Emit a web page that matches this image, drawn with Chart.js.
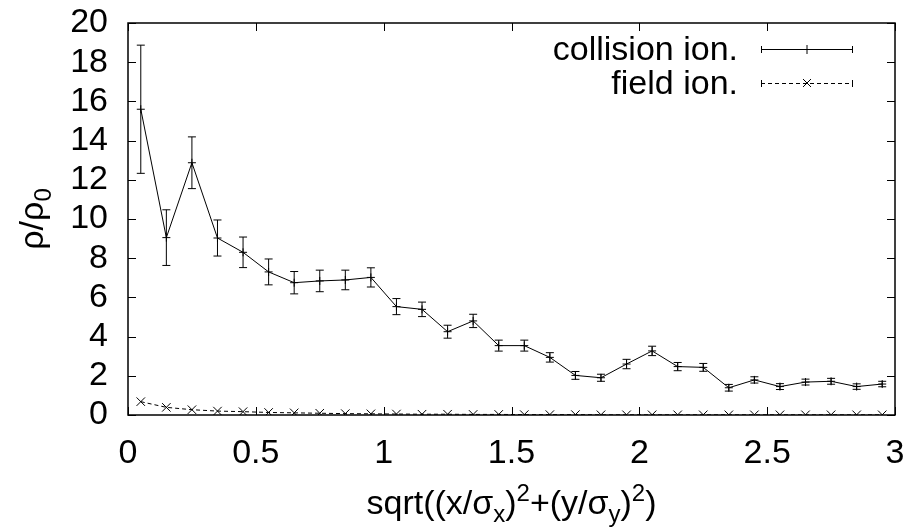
<!DOCTYPE html>
<html>
<head>
<meta charset="utf-8">
<script src="https://cdn.jsdelivr.net/npm/chart.js@4.4.1/dist/chart.umd.min.js"></script>
<style>
  html, body { margin: 0; padding: 0; background: #fff; }
  #wrap { width: 907px; height: 527px; position: relative; }
</style>
</head>
<body>
<div id="wrap"><canvas id="myChart"></canvas></div>
<script>
// valores
const xValues = [0.05, 0.15, 0.25, 0.35, 0.45, 0.55, 0.65, 0.75, 0.85, 0.95,
                 1.05, 1.15, 1.25, 1.35, 1.45, 1.55, 1.65, 1.75, 1.85, 1.95,
                 2.05, 2.15, 2.25, 2.35, 2.45, 2.55, 2.65, 2.75, 2.85, 2.95];
const collisionValues = [15.6, 9.05, 12.87, 9.03, 8.3, 7.3, 6.75, 6.84, 6.89, 7.02,
                         5.53, 5.39, 4.25, 4.8, 3.54, 3.54, 2.94, 2.02, 1.9, 2.6,
                         3.27, 2.47, 2.43, 1.39, 1.79, 1.45, 1.68, 1.72, 1.45, 1.58];
const collisionErr = [3.27, 1.42, 1.32, 0.92, 0.78, 0.66, 0.57, 0.55, 0.5, 0.49,
                      0.41, 0.37, 0.33, 0.34, 0.28, 0.28, 0.24, 0.2, 0.18, 0.24,
                      0.24, 0.21, 0.2, 0.17, 0.16, 0.15, 0.15, 0.15, 0.14, 0.14];
const fieldValues = [0.68, 0.39, 0.27, 0.2, 0.17, 0.13, 0.11, 0.09, 0.07, 0.06,
                     0.05, 0.04, 0.04, 0.03, 0.03, 0.02, 0.02, 0.02, 0.01, 0.01,
                     0.01, 0.01, 0.01, 0.01, 0.01, 0.01, 0.01, 0.01, 0.01, 0.01];
const seriesLabels = ['collision ion.', 'field ion.'];
const xTickStep = 0.5;
const yTickStep = 2;
const xRange = [0, 3];
const yRange = [0, 20];

const FONT = '"Liberation Sans", Arial, Helvetica, sans-serif';
const fontSize = 34;

// moldura + ticks para dentro (estilo gnuplot)
const frameTicks = {
    id: 'frameTicks',
    afterDraw(chart) {
        const ctx = chart.ctx;
        const a = chart.chartArea;
        const xs = chart.scales.x, ys = chart.scales.y;
        const len = 8;
        ctx.save();
        ctx.strokeStyle = '#000';
        ctx.lineWidth = 1.5;
        ctx.strokeRect(a.left, a.top, a.right - a.left, a.bottom - a.top);
        ctx.lineWidth = 1;
        ctx.beginPath();
        xs.ticks.forEach(t => {
            const px = Math.round(xs.getPixelForValue(t.value)) + 0.5;
            ctx.moveTo(px, a.bottom); ctx.lineTo(px, a.bottom - len);
            ctx.moveTo(px, a.top); ctx.lineTo(px, a.top + len);
        });
        ys.ticks.forEach(t => {
            const py = Math.round(ys.getPixelForValue(t.value)) + 0.5;
            ctx.moveTo(a.left, py); ctx.lineTo(a.left + len, py);
            ctx.moveTo(a.right, py); ctx.lineTo(a.right - len, py);
        });
        ctx.stroke();
        ctx.restore();
    }
};

// barras de erro
const errorBars = {
    id: 'errorBars',
    afterDatasetsDraw(chart) {
        const ctx = chart.ctx;
        const xs = chart.scales.x, ys = chart.scales.y;
        const cap = 4;
        ctx.save();
        ctx.strokeStyle = '#000';
        ctx.lineWidth = 1;
        ctx.beginPath();
        xValues.forEach((x, i) => {
            const px = xs.getPixelForValue(x);
            const top = ys.getPixelForValue(collisionValues[i] + collisionErr[i]);
            const bot = ys.getPixelForValue(collisionValues[i] - collisionErr[i]);
            ctx.moveTo(px, top); ctx.lineTo(px, bot);
            ctx.moveTo(px - cap, top); ctx.lineTo(px + cap, top);
            ctx.moveTo(px - cap, bot); ctx.lineTo(px + cap, bot);
        });
        ctx.stroke();
        ctx.restore();
    }
};

// legenda e títulos dos eixos (com índices)
const extras = {
    id: 'extras',
    afterDraw(chart) {
        const ctx = chart.ctx;
        const a = chart.chartArea;
        ctx.save();
        ctx.fillStyle = '#000';
        ctx.strokeStyle = '#000';
        ctx.lineWidth = 1;

        // legenda
        const rows = [49, 83];
        const x0 = 761, x1 = 853, xm = (x0 + x1) / 2;
        ctx.font = fontSize + 'px ' + FONT;
        ctx.textAlign = 'right';
        ctx.textBaseline = 'alphabetic';
        rows.forEach((y, i) => {
            ctx.fillText(seriesLabels[i], 738, y + 11);
            ctx.setLineDash(i === 1 ? [4, 3] : []);
            ctx.beginPath();
            ctx.moveTo(x0, y + 0.5); ctx.lineTo(x1, y + 0.5);
            ctx.stroke();
            ctx.setLineDash([]);
            ctx.beginPath();
            ctx.moveTo(x0 + 0.5, y - 3); ctx.lineTo(x0 + 0.5, y + 4);
            ctx.moveTo(x1 - 0.5, y - 3); ctx.lineTo(x1 - 0.5, y + 4);
            if (i === 0) {
                ctx.moveTo(xm, y - 4); ctx.lineTo(xm, y + 5);
            } else {
                ctx.moveTo(xm - 4, y - 4); ctx.lineTo(xm + 4, y + 4);
                ctx.moveTo(xm - 4, y + 4); ctx.lineTo(xm + 4, y - 4);
            }
            ctx.stroke();
        });

        // título do eixo x
        const big = fontSize + 'px ' + FONT;
        const small = Math.round(fontSize * 0.7) + 'px ' + FONT;
        const parts = [
            ['sqrt((x/σ', big, 0], ['x', small, 8], [')', big, 0], ['2', small, -13],
            ['+(y/σ', big, 0], ['y', small, 8], [')', big, 0], ['2', small, -13], [')', big, 0]
        ];
        ctx.textAlign = 'left';
        let total = 0;
        parts.forEach(p => { ctx.font = p[1]; total += ctx.measureText(p[0]).width; });
        let cx = (a.left + a.right) / 2 - total / 2;
        const base = 514;
        parts.forEach(p => {
            ctx.font = p[1];
            ctx.fillText(p[0], cx, base + p[2]);
            cx += ctx.measureText(p[0]).width;
        });

        // título do eixo y
        ctx.translate(43, (a.top + a.bottom) / 2);
        ctx.rotate(-Math.PI / 2);
        const yparts = [['ρ/ρ', big, 0], ['0', small, 8]];
        total = 0;
        yparts.forEach(p => { ctx.font = p[1]; total += ctx.measureText(p[0]).width; });
        cx = -total / 2;
        yparts.forEach(p => {
            ctx.font = p[1];
            ctx.fillText(p[0], cx, p[2]);
            cx += ctx.measureText(p[0]).width;
        });
        ctx.restore();
    }
};

// zera o padding extra que o Chart.js reserva para os rótulos
function fixScale(scale, size, isX) {
    if (isX) scale.height = size; else scale.width = size;
    scale.paddingLeft = 0; scale.paddingRight = 0;
    scale.paddingTop = 0; scale.paddingBottom = 0;
}

const ctx = document.getElementById('myChart').getContext('2d');
new Chart(ctx, {
    type: 'scatter',
    data: {
        datasets: [
            {
                label: seriesLabels[0],
                data: xValues.map((x, i) => ({ x: x, y: collisionValues[i] })),
                showLine: true,
                borderColor: '#000',
                backgroundColor: '#000',
                borderWidth: 1,
                pointStyle: 'cross',
                pointRadius: 4,
                pointBorderWidth: 1,
                tension: 0
            },
            {
                label: seriesLabels[1],
                data: xValues.map((x, i) => ({ x: x, y: fieldValues[i] })),
                showLine: true,
                borderColor: '#000',
                backgroundColor: '#000',
                borderWidth: 1,
                borderDash: [4, 3],
                pointStyle: 'crossRot',
                pointRadius: 6,
                pointBorderWidth: 1,
                tension: 0
            }
        ]
    },
    options: {
        responsive: true,
        maintainAspectRatio: false,
        animation: false,
        layout: { padding: { top: 23, right: 12, left: 0, bottom: 0 } },
        plugins: {
            legend: { display: false },
            tooltip: { enabled: false }
        },
        scales: {
            x: {
                type: 'linear',
                min: xRange[0],
                max: xRange[1],
                grid: { display: false, drawTicks: false },
                border: { display: false },
                ticks: {
                    stepSize: xTickStep,
                    autoSkip: false,
                    color: '#000',
                    padding: 18,
                    maxRotation: 0,
                    callback: value => String(+value),
                    font: { family: FONT, size: fontSize }
                },
                afterFit: scale => fixScale(scale, 112, true)
            },
            y: {
                min: yRange[0],
                max: yRange[1],
                grid: { display: false, drawTicks: false },
                border: { display: false },
                ticks: {
                    stepSize: yTickStep,
                    autoSkip: false,
                    color: '#000',
                    padding: 20,
                    callback: value => String(+value),
                    font: { family: FONT, size: fontSize }
                },
                afterFit: scale => fixScale(scale, 128, false)
            }
        }
    },
    plugins: [errorBars, frameTicks, extras]
});
</script>
</body>
</html>
